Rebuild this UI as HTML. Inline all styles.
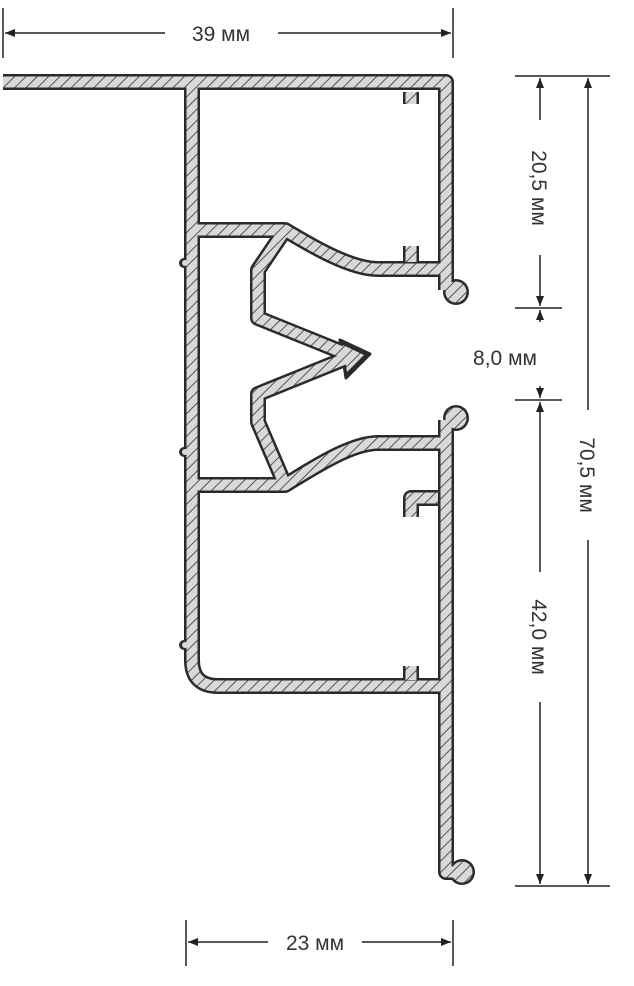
<!DOCTYPE html>
<html><head><meta charset="utf-8"><style>
html,body{margin:0;padding:0;background:#fff;}
svg{display:block}
text{font-family:"Liberation Sans",sans-serif;font-size:21px;fill:#333;}
</style></head><body>
<svg width="634" height="986" viewBox="0 0 634 986" xmlns="http://www.w3.org/2000/svg">
<defs>
<pattern id="h" patternUnits="userSpaceOnUse" width="8" height="8" patternTransform="rotate(45)">
<rect width="8" height="8" fill="#d9d9d9"/>
<line x1="0" y1="0" x2="0" y2="8" stroke="#333" stroke-width="1.6"/>
</pattern>
<marker id="a" viewBox="0 0 10 10" refX="10" refY="5" markerWidth="10" markerHeight="10" markerUnits="userSpaceOnUse" orient="auto-start-reverse">
<path d="M0 1 L10 5 L0 9 Z" fill="#222"/>
</marker>
<g id="walls" fill="none" stroke-linejoin="round">
<path d="M3 82 H446 V290"/>
<path d="M446 269 H378 C350 269 310 245 285 230 H192"/>
<path d="M192 82 V660 Q192 686 218 686 H446"/>
<path d="M446 420 V872 H458"/>
<path d="M446 443 H378 C350 443 310 470 285 485 H192"/>
<path d="M285 230 L258 270 V318 L352 356 L258 394 V422 L285 485"/>
<path d="M411 92 V104"/>
<path d="M411 246 V262"/>
<path d="M411 666 V680"/>
<path d="M438 498 H411 V517"/>
</g>
</defs>
<g stroke="#2a2a2a">
<use href="#walls" stroke-width="16"/>
<circle cx="456" cy="292" r="13" fill="#2a2a2a" stroke="none"/>
<circle cx="456" cy="418" r="13" fill="#2a2a2a" stroke="none"/>
<circle cx="462" cy="872" r="13" fill="#2a2a2a" stroke="none"/>
<path d="M340 340 L370 354 L346 378 Z" fill="#2a2a2a" stroke-width="3" stroke-linejoin="round"/>
<circle cx="184" cy="263" r="5" fill="#2a2a2a" stroke="none"/>
<circle cx="184" cy="452" r="5" fill="#2a2a2a" stroke="none"/>
<circle cx="184" cy="645" r="5" fill="#2a2a2a" stroke="none"/>
</g>
<g stroke="url(#h)">
<use href="#walls" stroke-width="11"/>
<circle cx="456" cy="292" r="10.5" fill="url(#h)" stroke="none"/>
<circle cx="456" cy="418" r="10.5" fill="url(#h)" stroke="none"/>
<circle cx="462" cy="872" r="10.5" fill="url(#h)" stroke="none"/>
<path d="M343 345 L364 355 L347 372 Z" fill="url(#h)" stroke="none"/>
<circle cx="185" cy="263" r="3" fill="#d9d9d9" stroke="none"/>
<circle cx="185" cy="452" r="3" fill="#d9d9d9" stroke="none"/>
<circle cx="185" cy="645" r="3" fill="#d9d9d9" stroke="none"/>
</g>
<g stroke="#222" stroke-width="1.5" fill="none">
<line x1="3" y1="8" x2="3" y2="58"/>
<line x1="453" y1="8" x2="453" y2="58"/>
<line x1="5" y1="33" x2="165" y2="33" marker-start="url(#a)"/>
<line x1="278" y1="33" x2="451" y2="33" marker-end="url(#a)"/>
<line x1="186" y1="920" x2="186" y2="966"/>
<line x1="453" y1="920" x2="453" y2="966"/>
<line x1="188" y1="942" x2="268" y2="942" marker-start="url(#a)"/>
<line x1="362" y1="942" x2="451" y2="942" marker-end="url(#a)"/>
<line x1="515" y1="76" x2="610" y2="76"/>
<line x1="515" y1="308" x2="562" y2="308"/>
<line x1="515" y1="400" x2="562" y2="400"/>
<line x1="515" y1="886" x2="610" y2="886"/>
<line x1="540" y1="78" x2="540" y2="120" marker-start="url(#a)"/>
<line x1="540" y1="255" x2="540" y2="306" marker-end="url(#a)"/>
<line x1="540" y1="310" x2="540" y2="322" marker-start="url(#a)"/>
<line x1="540" y1="386" x2="540" y2="398" marker-end="url(#a)"/>
<line x1="540" y1="402" x2="540" y2="572" marker-start="url(#a)"/>
<line x1="540" y1="702" x2="540" y2="884" marker-end="url(#a)"/>
<line x1="588" y1="78" x2="588" y2="410" marker-start="url(#a)"/>
<line x1="588" y1="540" x2="588" y2="884" marker-end="url(#a)"/>
</g>
<text x="221" y="41" text-anchor="middle">39 мм</text>
<text x="315" y="950" text-anchor="middle">23 мм</text>
<text x="505" y="365" text-anchor="middle">8,0 мм</text>
<text transform="translate(532,188) rotate(90)" text-anchor="middle">20,5 мм</text>
<text transform="translate(532,637) rotate(90)" text-anchor="middle">42,0 мм</text>
<text transform="translate(580,475) rotate(90)" text-anchor="middle">70,5 мм</text>
</svg>
</body></html>
